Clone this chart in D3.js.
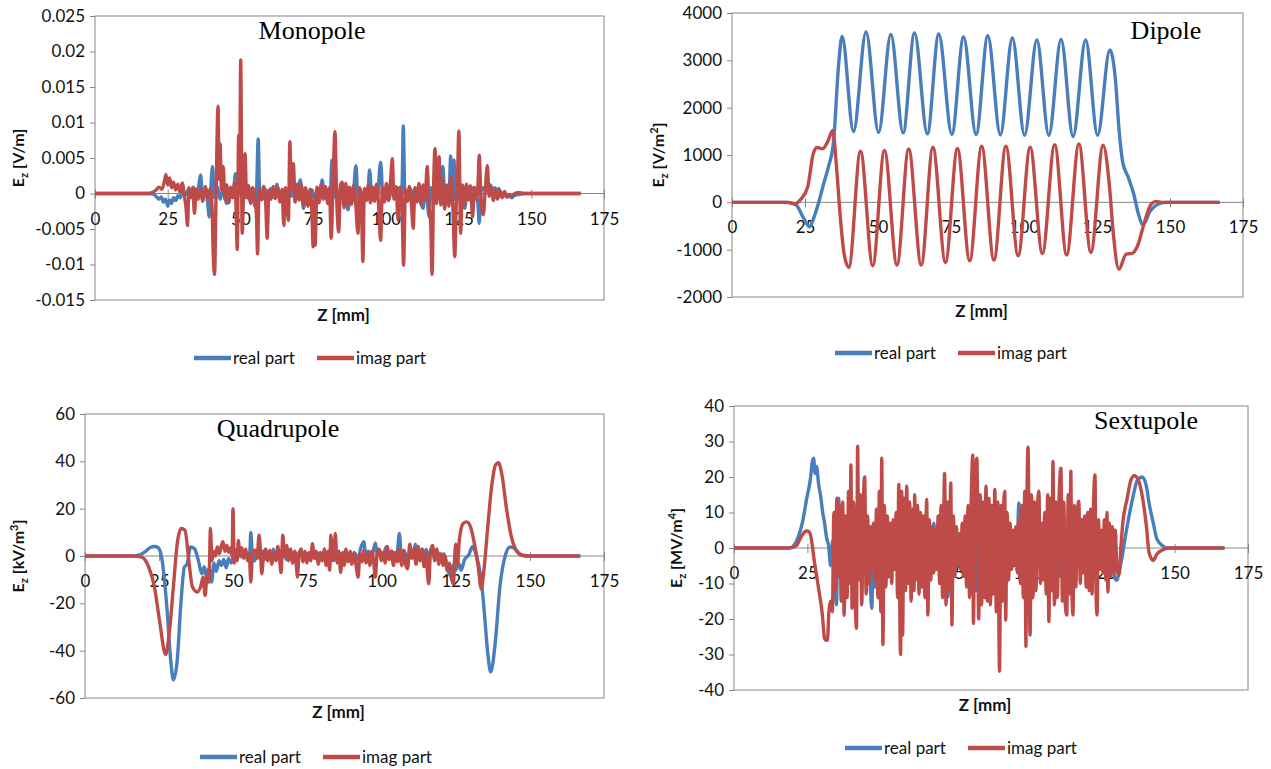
<!DOCTYPE html>
<html>
<head>
<meta charset="utf-8">
<script src="https://cdn.jsdelivr.net/npm/d3@7"></script>
<style>
  body { margin: 0; background: #fff; }
  svg { display: block; }
  .tick text { font-family: Lato, "Open Sans", sans-serif; font-size: 17px; fill: #111; }
  .tick line { stroke: #868686; }
</style>
</head>
<body>
<div class="chart"></div>
<script>
// z positions of the x ticks, shared by all four panels [mm]
const zTicks = [0, 25, 50, 75, 100, 125, 150, 175];
const legendLabels = ["real part", "imag part"];

// Monopole, Ez in units of 1e-3 V/m  [z, value]
const monopoleReal = [[0,0],[18,0],[20,-0.1],[21,-0.4],[22,-0.8],[22.8,-0.5],[23.5,-1.2],[24.3,-0.8],[25,-1.8],[25.6,-0.9],[26.3,-1.4],[27,-0.6],[27.8,-1.0],[28.5,-0.3],[29.3,-0.6],[30,0.3],[31,-0.2],[32,0.5],[33,-0.6],[34,0.8],[35,-0.4],[35.7,1.2],[36.3,2.6],[37,-0.5],[38,0.6],[38.7,-1.2],[39.3,-3.3],[39.8,0.5],[40.4,3.8],[41,-0.6],[42,1.0],[43,-0.8],[44,0.5],[45.2,-1.4],[46,0.6],[47,-0.5],[47.8,1.0],[48.3,2.8],[49,-0.4],[50,0.8],[51,-0.6],[52,0.4],[53,-0.8],[54,0.6],[55,-1.8],[55.6,1.0],[56.1,7.7],[56.6,0.2],[57.5,-0.8],[58.5,0.6],[59.5,-0.5],[60.5,0.7],[61.5,-0.6],[62.5,1.3],[63.5,-0.4],[64.5,0.5],[65.5,-0.9],[66.5,0.6],[67.5,-0.4],[68.5,0.8],[69.5,-0.6],[70.6,1.9],[71.7,-2.1],[72.5,0.4],[73.5,-0.6],[74.5,0.5],[75.5,-0.7],[76.5,0.6],[77.3,-0.4],[78.1,1.9],[79,-0.6],[80,0.5],[80.8,-0.8],[81.5,4.7],[82.2,-0.5],[83,0.6],[84,-0.8],[85,0.7],[86,-1.0],[87,-2.3],[87.8,0.4],[88.7,-0.5],[89.7,3.9],[90.4,-0.6],[91.2,0.5],[92,-0.8],[93,0.6],[93.7,-0.5],[94.4,3.3],[95.2,-0.6],[96,0.8],[97,-0.7],[98.2,4.4],[99,-0.4],[100,0.6],[101,-0.9],[102,0.7],[103,-0.5],[104,0.8],[105,-0.6],[105.6,1.5],[106,9.5],[106.5,0.3],[107.5,-0.8],[108.5,0.6],[109.5,-0.5],[110.5,0.7],[111.5,-0.6],[112.8,-2.1],[113.5,0.6],[114.2,-0.8],[114.9,-3.3],[115.5,0.8],[116.5,-0.6],[117.5,1.0],[118.5,-0.5],[119.6,3.8],[120.3,-0.9],[121,1.2],[121.7,-0.5],[122.3,5.3],[122.8,0.8],[123.4,4.7],[124,-0.9],[125,0.6],[126,-0.8],[127.1,-2.1],[128,0.5],[129,-0.6],[130,0.8],[131,-0.5],[131.6,-1.2],[132.1,-4.2],[132.7,0.3],[133.5,0.8],[134.3,0.4],[135.2,1.0],[135.9,1.2],[136.7,0.5],[137.5,0.8],[138.2,0.3],[138.7,0.7],[139.5,0.1],[140.3,-0.4],[141,-0.2],[141.8,-0.5],[142.5,-0.3],[143.3,-0.6],[144,-0.3],[145,-0.2],[146,-0.1],[148,0],[167,0]];
const monopoleImag = [[0,0],[18,0],[20,0.2],[21,0.5],[22,0.9],[23,0.6],[23.8,1.6],[24.4,2.7],[25,1.2],[25.7,2.2],[26.3,0.8],[27,1.6],[27.7,0.5],[28.5,1.3],[29.2,0.2],[30,1.5],[30.8,-0.6],[31.3,-2],[31.8,-4.5],[32.3,0.8],[33,-0.5],[33.6,0.9],[34.2,-2.8],[34.8,0.6],[35.5,-0.8],[36.2,0.7],[37,-1.1],[38,1.0],[38.8,-0.7],[39.5,0.6],[40.2,-1.5],[40.7,-9.2],[41.1,-11.4],[41.6,-1],[42.3,12.3],[42.7,2],[43,7.0],[43.5,0.5],[44.1,3.8],[44.6,-0.8],[45.3,1.2],[46,-1.3],[46.7,0.9],[47.3,-0.6],[48,1.5],[48.5,-2],[48.9,-7.9],[49.4,8.2],[49.7,1],[50.1,18.8],[50.6,-5.6],[51.1,0.5],[51.6,5.6],[52.1,-0.6],[52.8,1.1],[53.5,-1.4],[54.2,0.8],[55,-1.0],[55.5,-3],[55.9,-8.5],[56.4,0.6],[57.2,-0.9],[58,1.0],[58.7,-1.5],[59.2,-6.3],[59.8,0.5],[60.5,-0.8],[61.3,1.0],[62,-0.7],[62.8,0.8],[63.6,-1.2],[64.3,0.6],[64.9,-4.5],[65.5,0.8],[66,-1.2],[66.5,-3.8],[67,7.3],[67.5,0.6],[68.2,4.2],[68.8,-1.2],[69.5,1.3],[70.2,-0.9],[71,1.1],[71.7,-1.5],[72.4,0.8],[73.2,-1.8],[74,0.6],[74.6,-3],[75,-7.5],[75.4,-1],[75.7,-7.3],[76.3,0.9],[77,-1.3],[77.7,1.2],[78.5,-0.8],[79.2,1.0],[80,-1.4],[80.6,0.8],[81.2,-6.3],[81.8,0.7],[82.5,8.7],[83.1,-0.8],[83.8,-5.4],[84.4,1.2],[85,1.6],[85.6,-2.0],[86.2,1.4],[86.9,-1.6],[87.5,0.9],[88.2,-1.5],[88.9,1.1],[89.6,-1.2],[90.4,-5.6],[91,0.8],[91.6,-1.5],[92.1,-9.6],[92.6,0.7],[93.3,-1.0],[94,1.2],[94.7,-1.3],[95.4,0.9],[96.1,-1.1],[96.8,1.3],[97.5,-1.6],[98.2,-6.6],[98.8,0.8],[99.5,-1.2],[100.2,1.4],[100.9,-1.0],[101.6,1.6],[102.2,4.9],[102.8,-0.8],[103.5,1.0],[104.2,-3.8],[104.8,0.9],[105.5,-1.2],[106.1,-10.1],[106.7,0.6],[107.4,-1.1],[108.1,1.0],[108.8,-1.5],[109.4,-4.9],[110,0.8],[110.7,-1.2],[111.4,1.4],[112.1,-1.5],[112.8,1.2],[113.5,-0.9],[114.2,3.8],[114.8,-1.5],[115.4,-4],[115.9,-11.4],[116.4,0.8],[116.9,6.3],[117.4,-1.4],[118.3,5.2],[118.9,-1.6],[119.5,2.0],[120.2,-2.2],[121,1.0],[121.7,-1.8],[122.4,2.4],[123,-1.5],[123.7,-8.9],[124.2,-1.5],[124.6,1.5],[125.1,8.8],[125.7,-5.6],[126.3,1.2],[127,-1.6],[127.7,1.3],[128.4,-0.9],[129.1,1.1],[129.8,-3.3],[130.5,0.9],[131.2,-0.8],[131.7,1.5],[132.1,5.4],[132.7,-0.5],[133.5,-3.0],[134.2,0.6],[134.9,3.9],[135.5,-0.4],[136.2,0.9],[137,-1.0],[137.7,0.5],[138.4,-0.8],[139.2,0.4],[140,-0.6],[140.8,0.3],[141.6,-0.5],[142.4,-0.2],[143.2,-0.4],[144,-0.1],[145,0.1],[146,0.1],[148,0],[167,0]];

// Dipole, Ez in V/m^2
const dipoleReal = [[0,0],[19,0],[22,-60],[24.5,-330],[26.5,-515],[28,-330],[29.7,0],[31.5,420],[33,740],[34.8,1300],[36.5,2900],[37.7,3506],[41.6,1496],[45.9,3598],[50.2,1475],[54.4,3549],[58.6,1467],[62.5,3577],[66.9,1446],[70.8,3556],[75.3,1439],[79.3,3492],[83.6,1432],[87.6,3520],[91.9,1425],[96,3471],[100.2,1418],[104.4,3429],[108.5,1418],[112.7,3443],[116.8,1390],[121.1,3429],[125.2,1418],[129.4,3217],[131.3,2600],[132.6,1500],[133.8,850],[135.7,530],[137.6,170],[139.2,-250],[140.8,-473],[143.3,-180],[146,-35],[148.5,0],[167,0]];
const dipoleImag = [[0,0],[19,0],[21.5,-30],[23.5,60],[25.9,320],[27.8,1020],[29.1,1160],[31,1130],[32.9,1300],[34.5,1517],[35.8,740],[37.1,-320],[38.4,-1090],[40,-1376],[44,1080],[48.2,-1340],[52.2,1094],[56.5,-1326],[60.5,1129],[64.8,-1326],[68.8,1164],[73.1,-1270],[77.2,1136],[81.4,-1235],[85.5,1185],[89.7,-1220],[93.8,1185],[98,-1129],[102.1,1164],[106.3,-1080],[110.5,1220],[114.6,-1115],[118.8,1235],[122.9,-1058],[127.1,1206],[129.3,317],[130.6,-670],[132.5,-1411],[135,-1094],[137,-1080],[138.9,-917],[141.4,-388],[143.6,-35],[145.3,21],[147,0],[167,0]];

// Quadrupole, Ez in kV/m^3
const quadReal = [[0,0],[16,0],[18.5,0.5],[20.2,1.7],[22,3.6],[23.5,4],[24.7,3.5],[26,-1.8],[27.6,-21.6],[28.9,-44],[29.8,-52.4],[31.1,-44],[32.4,-18.8],[33.5,-4.7],[34.4,-3.5],[35.6,3.8],[36.9,3.1],[38.2,-1.8],[39.4,-7.5],[40.2,-4.5],[41,-9],[41.8,-5],[42.7,-11],[43.5,-3],[44.3,-6.5],[45.2,-2],[46,-4],[46.8,-1.5],[47.6,-5],[48.4,-1],[49.3,-3],[50.2,0.5],[51,-1.5],[52,1.2],[53,-0.5],[54,1.5],[55,-1],[55.6,2],[55.9,10],[56.4,1],[57.2,-2],[58,1.5],[59,-1],[60,2],[61,-1.5],[62,1],[63,-0.8],[63.5,3],[64.2,-1.5],[65,1.2],[66,-2.2],[67,1],[68,-1.5],[69,2],[70,-1],[71,1.5],[72,-0.6],[73,1.2],[74,-1.5],[75,1],[76,-0.8],[77,1.5],[78,-1],[79,1.3],[80,-0.5],[81,1.6],[82,-1.2],[83,1],[84,-1.8],[85,1.2],[86,-0.8],[87,1.5],[88,-1.2],[89,1],[90,-0.6],[91,1.2],[92,-1.4],[93,3.5],[94,6],[94.7,0],[95.5,2],[96.5,-1],[97.2,2],[97.9,5.5],[98.6,0.5],[99.5,2],[100.5,-0.5],[101.5,3.8],[102.5,0],[103.5,2],[104.5,-0.8],[105.3,1.5],[106,9.5],[106.6,1],[107.5,2.5],[108.5,-1],[109.5,2],[110.5,-0.5],[111.4,5],[112.2,0],[113,2.5],[114,-1.5],[115,2.8],[116,-0.5],[117,3],[118,-1],[119,1.5],[120,-2.5],[121,1],[122,-4],[123,-8],[124,-4],[125,-6],[126,-3],[126.8,-6],[128,-1.5],[129.4,0.5],[130.7,4],[131.5,2],[132.6,-3],[133.6,-10],[134.5,-21.6],[135.8,-41],[136.8,-49],[138.4,-35.7],[139.9,-13],[141.6,-0.4],[143.3,3.8],[144.8,3.2],[146.7,0.7],[148.7,0],[167,0]];
const quadImag = [[0,0],[16,0],[18.9,-0.4],[21.5,-4.7],[23.4,-13],[25.1,-27],[27.2,-41.6],[28.5,-31.5],[29.8,-13],[31.1,5.2],[32.4,11.6],[33.7,10.9],[35,-1.8],[36.2,-13],[37.9,-15.2],[39.2,-12],[39.8,-9],[40.5,-16.7],[41.2,-8],[41.8,-11],[42.3,11.6],[42.8,-2],[43.3,2],[44,0],[44.6,3.8],[45.3,1],[46,4.5],[46.5,6],[47.2,2],[47.8,4.5],[48.5,1.5],[49.1,3.5],[49.6,0],[49.9,20],[50.3,-3],[50.8,2.5],[51.3,-2],[51.7,6.6],[52.3,0],[52.9,3.5],[53.6,-1],[54.2,3],[54.8,-2],[55.4,1],[55.9,-11],[56.5,1],[57.4,2.5],[58,-1],[58.7,8.8],[59.2,1],[59.6,-7.5],[60.2,0],[61,3],[61.6,-2],[62.3,2.5],[63,-3.5],[63.7,1.5],[64.4,-2],[65,4],[65.6,-1.5],[66.1,-7],[66.7,8.8],[67.3,0],[68,4.5],[68.6,-2],[69.3,3],[70,-3],[70.7,2],[71.3,-5],[71.6,-8.9],[72.2,1],[72.9,3],[73.5,-2.5],[74.2,2],[74.8,-3],[75.5,1.5],[76.1,-2],[76.7,5.2],[77.3,-1],[78,2],[78.7,-3.5],[79.4,1.5],[80,-2],[80.7,3],[81.3,-4],[82,2],[82.5,-6],[82.9,8.8],[83.5,-2],[84,1],[84.4,9.5],[85,-3],[85.6,2],[86.2,-7],[86.8,1],[87.4,-4],[88,3],[88.7,-2.5],[89.4,2],[90,-3.5],[90.7,1.5],[91.4,-4],[92.1,-8.9],[92.7,1],[93.4,-2.5],[94,2.5],[94.7,-3],[95.4,1],[96,-4],[96.7,2],[97.3,-2],[97.9,-8.9],[98.5,1],[99.2,3],[99.9,-2],[100.6,1.5],[101.2,-3],[101.9,4],[102.6,-1.5],[103.3,2],[104,-4],[104.7,1.5],[105.4,-2.5],[106.1,3],[106.8,-4],[107.5,2],[108.1,-3.5],[108.8,-5.4],[109.5,5],[110.2,-1],[110.9,3],[111.6,-3.5],[112.3,4],[113,-2],[113.7,3],[114.3,-4.5],[115,1],[115.4,-6],[115.9,-11.7],[116.5,2],[117.2,4.5],[117.9,-2],[118.6,3],[119.3,-3.5],[120,1],[120.7,-4],[121.4,0],[122.1,-6],[122.8,-3],[123.5,-9],[124.2,-12],[124.6,-2],[125,5],[125.6,-4],[126.2,6.6],[127.5,13.7],[128.7,14.4],[130,12.3],[131.3,5.2],[132.6,-4.7],[133.6,-13.8],[134.5,-6],[135.8,12.3],[137.1,29.2],[138.4,38.4],[139.4,39.4],[140.7,33.5],[142.2,19.3],[143.8,8],[145.4,2.4],[147.4,0.3],[150,0],[167,0]];

// Sextupole, Ez in MV/m^4
const sextReal = [[0,0],[19,0],[20.5,0.8],[22,3.4],[23.3,7.2],[24.7,13.7],[26.1,20],[26.6,24],[27.1,25.3],[27.6,21],[28.1,23],[28.8,18],[29.5,14.6],[30.2,10],[30.8,7.2],[31.5,3],[32.2,0.7],[32.9,-5],[33.6,2],[34.2,-8],[34.9,-16],[35.3,5],[35.6,14],[36.2,3],[37,-6],[37.8,4],[38.6,-9],[39.4,6],[40.2,-4],[41,8],[41.8,-7],[42.6,3],[43.4,-5],[44.2,6],[45,-8],[45.8,2],[46.4,-10],[46.9,-17],[47.4,-3],[47.9,-11],[48.7,2],[49.5,-5],[50.3,4],[51.2,-6],[52,-8.6],[52.8,1],[53.6,-4],[54.4,3],[55.2,-2],[56,5],[57,-6],[58,8],[59,-5],[60,6],[61,-7],[62,9],[63,-4],[64,6],[65,-8],[66,5],[67,-3],[68,7],[69,-6],[70,4],[71,-9],[72,5],[72.8,-13.8],[73.6,2],[74.5,-4],[75.5,6],[76.5,-3],[77.5,2],[78.5,-5],[79.5,3],[80.5,-8],[81.5,10],[82.5,-12],[83.5,8],[84.5,-10],[85.5,11],[86.5,-9],[87.5,7],[88.5,-11],[89.5,9],[90.5,-8],[91.5,6],[92.5,-5],[93.5,3],[94.5,-3],[95.5,5],[96.3,-2],[97,12.7],[97.6,4],[98.3,12],[99,-3],[100,5],[101,-6],[102,4],[103,-2],[104,6],[105,-7],[106,8],[107,-9],[108,7],[109,-10],[110,9],[111,-8],[112,7],[113,-9],[114,8],[115,-7],[116,6],[117,-5],[118,4],[118.8,6.2],[119.5,-3],[120.5,4],[121.5,-4],[122.5,3],[123.5,-3],[124.5,4],[125.5,-2],[126.5,3],[127.5,-4],[128.5,1],[129.2,-6],[129.7,-8.6],[130.4,-9.1],[131,-7],[131.8,-4],[133.1,2.5],[134.5,9],[135.9,14.6],[137.2,18.8],[139,20],[140.4,17.4],[141.3,12.7],[142.7,7.2],[144,2.5],[145.8,0.7],[147.4,0],[167,0]];
const sextImag = [[0,0],[18,0],[20,0.2],[21.3,0.7],[23,3.4],[24.7,4.8],[25.6,4.5],[26.1,3.5],[27.4,-4],[28.8,-11.4],[30.1,-18.9],[30.8,-25.4],[31.3,-26],[31.8,-26],[32.3,-18],[32.9,-15],[33.5,-18],[34,10],[34.5,-12],[35,14],[35.5,-8],[36,12],[36.5,-15],[37,13],[37.5,-19],[38,9],[38.5,-14],[39,16],[39.5,-10],[39.8,23.4],[40.2,-17],[40.7,13],[41.2,-12],[41.7,-22.6],[42.1,28.7],[42.5,-9],[43,15],[43.5,-16],[44,12],[44.5,20],[45,-13],[45.5,9],[46,-10],[46.5,6],[47,-6],[47.5,7],[48,-9],[48.5,11],[49,-14],[49.5,16],[50,-18],[50.3,25.3],[50.7,-27.2],[51.2,12],[51.7,-11],[52.2,9],[52.7,-8],[53.2,7],[53.7,-10],[54.2,8],[54.7,-6],[55.2,10],[55.7,-14],[56.1,17.9],[56.5,-22],[56.7,-30],[57.1,16],[57.4,-24.5],[57.9,14],[58.4,-12],[58.8,17.4],[59.3,-10],[59.8,13],[60.3,-15],[60.8,11],[61.3,-12],[61.5,15],[62,-9],[62.5,12],[63,-13],[63.5,10],[64,-11],[64.5,9],[65,-14],[65.6,13.7],[66,-18.9],[66.5,8],[67,-9],[67.5,6],[68,-7],[68.5,5],[69,-6],[69.5,9],[70,-10],[70.5,12],[71,-14],[71.7,21],[72.2,-16],[72.7,13],[73.2,-12],[73.8,18.3],[74.2,-21.7],[74.7,9],[75.2,-8],[75.7,6],[76.2,-5],[76.7,4],[77.2,-6],[77.7,7],[78.2,-8],[78.7,9],[79.2,-11],[79.7,12],[80.2,-14],[80.8,15],[81.3,26.2],[81.5,-21.2],[82,14],[82.7,25.3],[83.3,-20],[83.8,15],[84.3,-16],[84.8,13],[85.3,-14],[85.8,17.4],[86.3,-15],[86.8,14],[87.3,-16],[87.8,12],[88.3,-13],[88.8,16.5],[89.3,-18],[89.8,13],[90.4,-34.7],[90.9,12],[91.4,-15],[91.9,14],[92.2,16],[92.5,-20.3],[93,10],[93.5,-9],[94,7],[94.5,-6],[95,5],[95.5,-5],[96,6],[96.5,-7],[97,8],[97.5,-10],[98,12],[98.5,-14],[99,16],[99.4,-27.7],[99.8,18],[100.1,28.4],[100.8,-24.5],[101.3,15],[101.8,-14],[102.3,13],[102.8,-12],[103.3,11],[103.8,16],[104.3,-10],[104.8,7],[105.3,-9],[105.8,10],[106.3,-13],[106.8,15],[107.2,-20.7],[107.7,14],[108.2,-12],[108.6,24.4],[109.1,-16],[109.6,13],[110.1,-14],[110.6,12],[111.3,22.5],[111.8,-15],[112.3,13],[112.8,-16],[113.3,-18.9],[113.8,15],[114.2,-13],[114.7,21.6],[115.1,-14],[115.4,-18.9],[115.9,12],[116.4,-11],[116.9,10],[117.4,13.2],[117.9,-10],[118.4,8],[118.9,-7],[119.4,9],[119.9,-11],[120.4,10],[120.9,-12],[121.4,11],[121.9,-13],[122.4,12],[122.9,20.6],[123.3,-14],[123.6,-18.9],[124.1,8],[124.6,-6],[125.1,5],[125.6,-7],[126.1,8],[126.6,-9],[127,10],[127.3,-12.4],[127.8,7],[128.3,-8],[128.8,6],[129.3,-7],[129.8,5],[130.4,-6],[131.1,-7.7],[131.7,0],[132.4,7.2],[133.8,13.7],[135.2,19.3],[136.3,20.4],[137.6,19.3],[139,14.6],[140.4,6.2],[141.3,-1.2],[142.7,-3.5],[144,-1.7],[145.8,-0.6],[148.1,0],[167,0]];

const monoTicks = [-15, -10, -5, 0, 5, 10, 15, 20, 25];
const dipoleTicks = [-2000, -1000, 0, 1000, 2000, 3000, 4000];
const quadTicks = [-60, -40, -20, 0, 20, 40, 60];
const sextTicks = [-40, -30, -20, -10, 0, 10, 20, 30, 40];

const colors = { real: "#4a7ebb", imag: "#be4b48", axis: "#868686" };

const panels = [
  { title: "Monopole", real: monopoleReal, imag: monopoleImag, ticks: monoTicks,
    fmt: d => String(+(d / 1000).toFixed(3)), unit: "V/m", exp: "",
    box: { l: 95, r: 604, t: 16, b: 300 }, titleX: 312, titleY: 39, ylabX: 24, xlabY: 321, legX: 194, legY: 358 },
  { title: "Dipole", real: dipoleReal, imag: dipoleImag, ticks: dipoleTicks,
    fmt: d => String(d), unit: "V/m", exp: "2",
    box: { l: 732, r: 1243, t: 13, b: 297 }, titleX: 1166, titleY: 39, ylabX: 664, xlabY: 317, legX: 835, legY: 353 },
  { title: "Quadrupole", real: quadReal, imag: quadImag, ticks: quadTicks,
    fmt: d => String(d), unit: "kV/m", exp: "3",
    box: { l: 85, r: 604, t: 414, b: 698 }, titleX: 278, titleY: 437, ylabX: 24, xlabY: 718, legX: 200, legY: 757 },
  { title: "Sextupole", real: sextReal, imag: sextImag, ticks: sextTicks,
    fmt: d => String(d), unit: "MV/m", exp: "4",
    box: { l: 734, r: 1248, t: 406, b: 690 }, titleX: 1146, titleY: 429, ylabX: 682, xlabY: 711, legX: 845, legY: 748 }
];

const svg = d3.select(".chart").append("svg")
  .attr("width", 1271)
  .attr("height", 769);

panels.forEach(p => {
  const x = d3.scaleLinear().domain([0, 175]).range([p.box.l, p.box.r]);
  const y = d3.scaleLinear().domain(d3.extent(p.ticks)).range([p.box.b, p.box.t]);
  const g = svg.append("g");

  // plot area border
  g.append("rect")
    .attr("x", p.box.l).attr("y", p.box.t)
    .attr("width", p.box.r - p.box.l).attr("height", p.box.b - p.box.t)
    .attr("fill", "none").attr("stroke", colors.axis).attr("stroke-width", 1);

  // y axis
  const yAxis = g.append("g")
    .attr("transform", `translate(${p.box.l},0)`)
    .call(d3.axisLeft(y).tickValues(p.ticks).tickSize(5).tickPadding(5).tickFormat(p.fmt));
  yAxis.select(".domain").remove();

  // x axis sits on the zero line
  const xAxis = g.append("g")
    .attr("transform", `translate(0,${y(0)})`)
    .call(d3.axisBottom(x).tickValues(zTicks).tickSize(5).tickPadding(14));
  xAxis.select(".domain").attr("stroke", colors.axis).attr("d", `M${p.box.l},0H${p.box.r}`);
  xAxis.selectAll(".tick line").attr("y1", -4);

  // series: real first, imag on top
  const line = d3.line()
    .x(d => x(d[0]))
    .y(d => y(d[1]))
    .curve(d3.curveMonotoneX);
  [["real", p.real], ["imag", p.imag]].forEach(([k, data]) => {
    g.append("path")
      .datum(data)
      .attr("d", line)
      .attr("fill", "none")
      .attr("stroke", colors[k])
      .attr("stroke-width", 3.4)
      .attr("stroke-linejoin", "round");
  });

  // panel title
  g.append("text")
    .attr("x", p.titleX).attr("y", p.titleY)
    .attr("text-anchor", "middle")
    .style("font-family", "'Liberation Serif', 'DejaVu Serif', serif")
    .style("font-size", "26px")
    .attr("fill", "#000")
    .text(p.title);

  // y label  E_z [unit]
  const cy = (p.box.t + p.box.b) / 2;
  const yl = g.append("text")
    .attr("transform", `translate(${p.ylabX},${cy}) rotate(-90)`)
    .attr("text-anchor", "middle")
    .style("font-family", "Lato, 'Open Sans', sans-serif")
    .style("font-size", "16px")
    .style("font-weight", "bold")
    .attr("fill", "#111");
  yl.append("tspan").text("E");
  yl.append("tspan").attr("font-size", "11px").attr("dy", 4).text("z");
  yl.append("tspan").attr("dy", -4).text(" [" + p.unit);
  if (p.exp) yl.append("tspan").attr("font-size", "11px").attr("dy", -6).text(p.exp);
  yl.append("tspan").attr("dy", p.exp ? 6 : 0).text("]");

  // x label
  g.append("text")
    .attr("x", (p.box.l + p.box.r) / 2 - 6).attr("y", p.xlabY)
    .attr("text-anchor", "middle")
    .style("font-family", "Lato, 'Open Sans', sans-serif")
    .style("font-size", "17px")
    .style("font-weight", "bold")
    .attr("fill", "#111")
    .text("Z [mm]");

  // legend
  legendLabels.forEach((lab, i) => {
    const lx = p.legX + i * 123;
    g.append("line")
      .attr("x1", lx).attr("x2", lx + 37)
      .attr("y1", p.legY).attr("y2", p.legY)
      .attr("stroke", i === 0 ? colors.real : colors.imag)
      .attr("stroke-width", 4.5);
    g.append("text")
      .attr("x", lx + 39).attr("y", p.legY + 6)
      .style("font-family", "Lato, 'Open Sans', sans-serif")
      .style("font-size", "17px")
      .attr("fill", "#111")
      .text(lab);
  });
});
</script>
</body>
</html>
